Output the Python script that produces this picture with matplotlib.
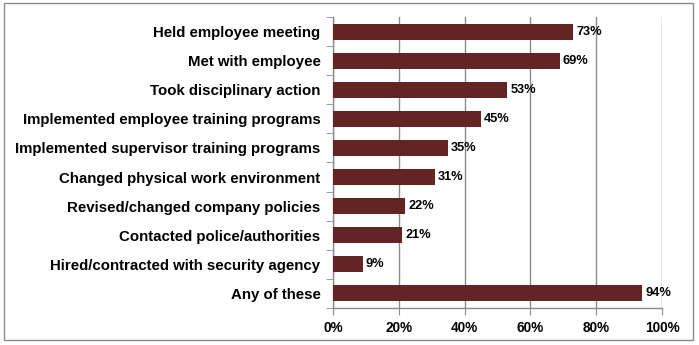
import matplotlib
matplotlib.use("Agg")
import matplotlib.pyplot as plt
from matplotlib.patches import Rectangle
import numpy as np

plt.rcParams['font.family'] = ['Liberation Sans', 'DejaVu Sans']

actions = [
    "Held employee meeting",
    "Met with employee",
    "Took disciplinary action",
    "Implemented employee training programs",
    "Implemented supervisor training programs",
    "Changed physical work environment",
    "Revised/changed company policies",
    "Contacted police/authorities",
    "Hired/contracted with security agency",
    "Any of these",
]
percents = [73, 69, 53, 45, 35, 31, 22, 21, 9, 94]
xticks = [0, 20, 40, 60, 80, 100]

bar_color = "#632523"
grid_color = "#8c8c8c"

fig = plt.figure(figsize=(6.99, 3.45), dpi=100)
# outer frame around the whole chart
fig.patches.append(Rectangle((4 / 699, 5 / 345), 689 / 699, 337 / 345,
                             transform=fig.transFigure, fill=False,
                             edgecolor="#8c8c8c", linewidth=1.0))

ax = fig.add_axes([333 / 699, 37 / 345, 329 / 699, 291 / 345])

n = len(actions)
ypos = np.arange(n)
ax.barh(ypos, percents, height=0.55, color=bar_color, zorder=3)

for y, v in zip(ypos, percents):
    ax.text(v + 0.9, y, f"{v}%", va="center", ha="left",
            fontsize=9.2, fontweight="bold", color="black", zorder=4)

ax.set_xlim(0, 100)
ax.set_ylim(n - 0.5, -0.5)
ax.set_xticks(xticks)
ax.set_xticklabels([f"{t}%" for t in xticks], fontsize=9.8, fontweight="bold")

ax.set_yticks(ypos)
ax.set_yticklabels(actions, fontsize=10.8, fontweight="bold")
ax.tick_params(axis="y", length=0, pad=9)
# category boundary ticks
ax.set_yticks(np.arange(-0.5, n, 1), minor=True)
ax.tick_params(axis="y", which="minor", length=5, color=grid_color, direction="out")
ax.tick_params(axis="x", length=5, color=grid_color, direction="out", pad=4)

ax.grid(axis="x", color=grid_color, linewidth=1.0, zorder=0)
for side in ["top", "right"]:
    ax.spines[side].set_visible(False)
for side in ["left", "bottom"]:
    ax.spines[side].set_color(grid_color)
    ax.spines[side].set_linewidth(1.0)

fig.savefig("out.png", dpi=100)
